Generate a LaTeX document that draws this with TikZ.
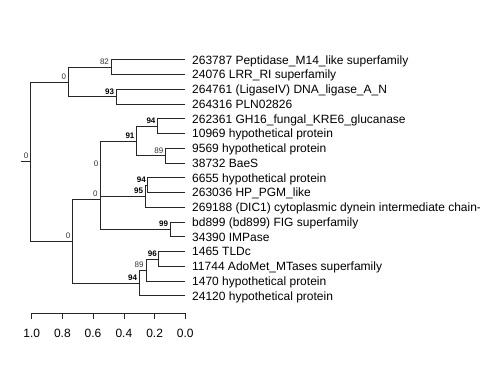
\documentclass[tikz,border=0pt]{standalone}
\usepackage{fontspec}
\setmainfont{Liberation Sans}
\begin{document}
\begin{tikzpicture}[x=1pt,y=-1pt,line width=0.8pt,draw=black!85,
    leaf/.style={anchor=base west,inner sep=0pt,font=\fontsize{12}{14}\selectfont},
    boot/.style={anchor=base east,inner sep=0pt,font=\fontsize{8}{9}\selectfont,text=black!80},
    bootb/.style={boot,font=\fontsize{8}{9}\selectfont\bfseries,text=black},
    axlab/.style={anchor=base,inner sep=0pt,font=\fontsize{12}{14}\selectfont}]
    \useasboundingbox (0,0) rectangle (480,384);

% leaf tips
    \coordinate (l0) at (185.3,59.8);
    \coordinate (l1) at (185.3,74.55);
    \coordinate (l2) at (185.3,89.3);
    \coordinate (l3) at (185.3,104.05);
    \coordinate (l4) at (185.3,118.8);
    \coordinate (l5) at (185.3,133.55);
    \coordinate (l6) at (185.3,148.3);
    \coordinate (l7) at (185.3,163.05);
    \coordinate (l8) at (185.3,177.8);
    \coordinate (l9) at (185.3,192.55);
    \coordinate (l10) at (185.3,207.3);
    \coordinate (l11) at (185.3,222.05);
    \coordinate (l12) at (185.3,236.8);
    \coordinate (l13) at (185.3,251.55);
    \coordinate (l14) at (185.3,266.3);
    \coordinate (l15) at (185.3,281.05);
    \coordinate (l16) at (185.3,295.8);

% leaf labels
    \node[leaf] (t0) at ([xshift=6.5pt,yshift=-4.3pt]l0) {263787 Peptidase\_M14\_like superfamily};
    \node[leaf] (t1) at ([xshift=6.5pt,yshift=-4.3pt]l1) {24076 LRR\_RI superfamily};
    \node[leaf] (t2) at ([xshift=6.5pt,yshift=-4.3pt]l2) {264761 (LigaseIV) DNA\_ligase\_A\_N};
    \node[leaf] (t3) at ([xshift=6.5pt,yshift=-4.3pt]l3) {264316 PLN02826};
    \node[leaf] (t4) at ([xshift=6.5pt,yshift=-4.3pt]l4) {262361 GH16\_fungal\_KRE6\_glucanase};
    \node[leaf] (t5) at ([xshift=6.5pt,yshift=-4.3pt]l5) {10969 hypothetical protein};
    \node[leaf] (t6) at ([xshift=6.5pt,yshift=-4.3pt]l6) {9569 hypothetical protein};
    \node[leaf] (t7) at ([xshift=6.5pt,yshift=-4.3pt]l7) {38732 BaeS};
    \node[leaf] (t8) at ([xshift=6.5pt,yshift=-4.3pt]l8) {6655 hypothetical protein};
    \node[leaf] (t9) at ([xshift=6.5pt,yshift=-4.3pt]l9) {263036 HP\_PGM\_like};
    \node[leaf] (t10) at ([xshift=6.5pt,yshift=-4.3pt]l10) {269188 (DIC1) cytoplasmic dynein intermediate chain-};
    \node[leaf] (t11) at ([xshift=6.5pt,yshift=-4.3pt]l11) {bd899 (bd899) FIG superfamily};
    \node[leaf] (t12) at ([xshift=6.5pt,yshift=-4.3pt]l12) {34390 IMPase};
    \node[leaf] (t13) at ([xshift=6.5pt,yshift=-4.3pt]l13) {1465 TLDc};
    \node[leaf] (t14) at ([xshift=6.5pt,yshift=-4.3pt]l14) {11744 AdoMet\_MTases superfamily};
    \node[leaf] (t15) at ([xshift=6.5pt,yshift=-4.3pt]l15) {1470 hypothetical protein};
    \node[leaf] (t16) at ([xshift=6.5pt,yshift=-4.3pt]l16) {24120 hypothetical protein};

% inner nodes
    \coordinate (n82) at (111.3,67.18);
    \coordinate (n93) at (116,96.68);
    \coordinate (nA) at (68.5,81.93);
    \coordinate (n94a) at (157.3,126.18);
    \coordinate (n89a) at (165.7,155.68);
    \coordinate (n91) at (136.3,140.93);
    \coordinate (n94b) at (147.7,185.18);
    \coordinate (n95) at (145,196.24);
    \coordinate (nB1a) at (100.8,168.58);
    \coordinate (n99) at (170,229.43);
    \coordinate (nB1) at (100,199.0);
    \coordinate (n96) at (158.7,258.93);
    \coordinate (n89b) at (146,269.99);
    \coordinate (n94c) at (139,282.9);
    \coordinate (nB) at (72.7,240.95);
    \coordinate (root) at (30.7,161.44);
    \coordinate (stub) at (20.7,161.44);

% branches
    \draw (stub) -- (root);
    \draw (root) |- (nA);
    \draw (root) |- (nB);
    \draw (nA) |- (n82);
    \draw (nA) |- (n93);
    \draw (n82) |- (l0);
    \draw (n82) |- (l1);
    \draw (n93) |- (l2);
    \draw (n93) |- (l3);
    \draw (nB) |- (nB1);
    \draw (nB) |- (n94c);
    \draw (nB1) |- (nB1a);
    \draw (nB1) |- (n99);
    \draw (nB1a) |- (n91);
    \draw (nB1a) |- (n95);
    \draw (n91) |- (n94a);
    \draw (n91) |- (n89a);
    \draw (n94a) |- (l4);
    \draw (n94a) |- (l5);
    \draw (n89a) |- (l6);
    \draw (n89a) |- (l7);
    \draw (n95) |- (n94b);
    \draw (n95) |- (l10);
    \draw (n94b) |- (l8);
    \draw (n94b) |- (l9);
    \draw (n99) |- (l11);
    \draw (n99) |- (l12);
    \draw (n94c) |- (n89b);
    \draw (n94c) |- (l16);
    \draw (n89b) |- (n96);
    \draw (n89b) |- (l15);
    \draw (n96) |- (l13);
    \draw (n96) |- (l14);

% support values
    \node[boot] (broot) at ([xshift=-2pt,yshift=2.5pt]root) {0};
    \node[boot] (bA) at ([xshift=-2pt,yshift=2.5pt]nA) {0};
    \node[boot] (b82) at ([xshift=-2pt,yshift=2.5pt]n82) {82};
    \node[bootb] (b93) at ([xshift=-1.5pt,yshift=2.5pt]n93) {93};
    \node[bootb] (b94a) at ([xshift=-1.5pt,yshift=2.5pt]n94a) {94};
    \node[boot] (b89a) at ([xshift=-2pt,yshift=2.5pt]n89a) {89};
    \node[bootb] (b91) at ([xshift=-1.5pt,yshift=2.5pt]n91) {91};
    \node[bootb] (b94b) at ([xshift=-1.5pt,yshift=2.5pt]n94b) {94};
    \node[bootb] (b95) at ([xshift=-1.5pt,yshift=2.5pt]n95) {95};
    \node[boot] (bB1a) at ([xshift=-2pt,yshift=2.5pt]nB1a) {0};
    \node[boot] (bB1) at ([xshift=-2pt,yshift=2.5pt]nB1) {0};
    \node[bootb] (b99) at ([xshift=-1.5pt,yshift=2.5pt]n99) {99};
    \node[bootb] (b96) at ([xshift=-1.5pt,yshift=2.5pt]n96) {96};
    \node[boot] (b89b) at ([xshift=-2pt,yshift=2.5pt]n89b) {89};
    \node[bootb] (b94c) at ([xshift=-1.5pt,yshift=2.5pt]n94c) {94};
    \node[boot] (bB) at ([xshift=-2pt,yshift=2.5pt]nB) {0};

% scale axis
    \coordinate (a0) at (31.7,313.3);
    \coordinate (a1) at (62.4,313.3);
    \coordinate (a2) at (93.0,313.3);
    \coordinate (a3) at (123.9,313.3);
    \coordinate (a4) at (154.6,313.3);
    \coordinate (a5) at (185.3,313.3);
    \draw (a0) -- (a5);
    \draw (a0) -- ++(0,6);
    \draw (a1) -- ++(0,6);
    \draw (a2) -- ++(0,6);
    \draw (a3) -- ++(0,6);
    \draw (a4) -- ++(0,6);
    \draw (a5) -- ++(0,6);
    \node[axlab] (x0) at ([yshift=-24pt]a0) {1.0};
    \node[axlab] (x1) at ([yshift=-24pt]a1) {0.8};
    \node[axlab] (x2) at ([yshift=-24pt]a2) {0.6};
    \node[axlab] (x3) at ([yshift=-24pt]a3) {0.4};
    \node[axlab] (x4) at ([yshift=-24pt]a4) {0.2};
    \node[axlab] (x5) at ([yshift=-24pt]a5) {0.0};

\end{tikzpicture}
\end{document}
